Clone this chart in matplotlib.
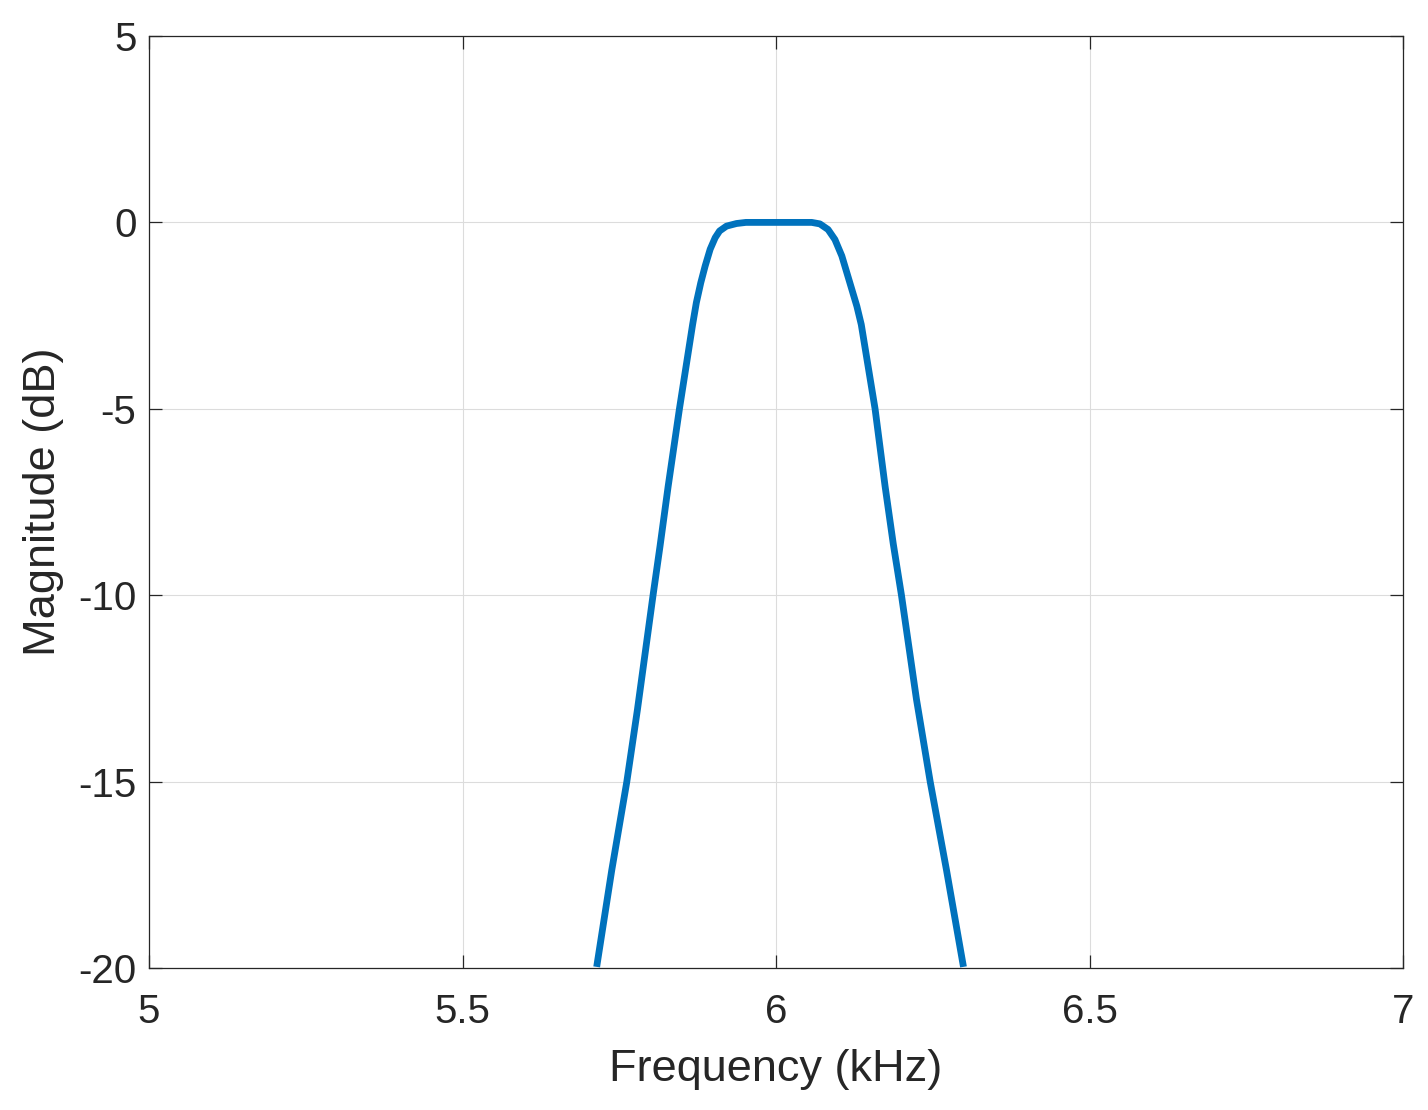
import matplotlib
matplotlib.use("Agg")
import matplotlib.pyplot as plt

# Frequency (kHz) and magnitude (dB)
freq_khz = [5.714, 5.738, 5.762, 5.779, 5.804, 5.815, 5.828, 5.846, 5.867, 5.873,
            5.880, 5.887, 5.895, 5.903, 5.910, 5.921, 5.937, 5.952, 6.000, 6.057,
            6.070, 6.083, 6.094, 6.105, 6.113, 6.121, 6.129, 6.136, 6.158, 6.174,
            6.187, 6.200, 6.224, 6.246, 6.272, 6.299]
mag_db = [-19.97, -17.38, -15.01, -13.07, -9.99, -8.69, -7.08, -5.00, -2.74, -2.15,
          -1.62, -1.17, -0.72, -0.41, -0.23, -0.10, -0.03, 0.0, 0.0, 0.0,
          -0.04, -0.19, -0.46, -0.90, -1.35, -1.80, -2.25, -2.74, -5.00, -7.08,
          -8.62, -9.99, -12.79, -15.01, -17.38, -19.97]

x_ticks = [5, 5.5, 6, 6.5, 7]
x_tick_labels = ["5", "5.5", "6", "6.5", "7"]
y_ticks = [-20, -15, -10, -5, 0, 5]
y_tick_labels = ["-20", "-15", "-10", "-5", "0", "5"]

plt.rcParams['font.family'] = ['Liberation Sans', 'DejaVu Sans']
plt.rcParams['axes.unicode_minus'] = False

fig = plt.figure(figsize=(14.28, 11.10), dpi=100)
ax = fig.add_axes([149/1428, 1-968/1110, (1403-149)/1428, (968-36)/1110])

ax.plot(freq_khz, mag_db, color="#0072BD", lw=4.9,
        solid_joinstyle='round', solid_capstyle='butt')

ax.set_xlim(5, 7)
ax.set_ylim(-20, 5)
ax.set_xticks(x_ticks)
ax.set_xticklabels(x_tick_labels)
ax.set_yticks(y_ticks)
ax.set_yticklabels(y_tick_labels)

tc = "#262626"
ax.grid(True, color="#dcdcdc", lw=0.8)
ax.set_axisbelow(True)
ax.tick_params(direction='in', length=9.5, width=0.9, colors=tc, labelsize=29,
               top=True, right=True)
ax.tick_params(axis='x', pad=18)
ax.tick_params(axis='y', pad=9)
for s in ax.spines.values():
    s.set_color(tc)
    s.set_linewidth(0.9)

ax.set_xlabel("Frequency (kHz)", fontsize=32.5, color=tc, labelpad=13)
ax.set_ylabel("Magnitude (dB)", fontsize=32.5, color=tc, labelpad=10)

fig.savefig("out.png", dpi=100, facecolor="white")
